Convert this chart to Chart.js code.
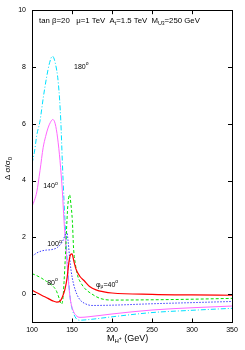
<!DOCTYPE html>
<html><head><meta charset="utf-8">
<script src="https://cdn.jsdelivr.net/npm/chart.js@4/dist/chart.umd.min.js"></script>
<style>html,body{margin:0;padding:0;background:#fff}canvas{display:block}</style>
</head><body>
<canvas id="c" width="245" height="350"></canvas>
<script>
// Data (M_H+ in GeV, Δσ/σ0)
const m40 = [100,106,112,120,126,131,135,138,141,144,146,148,150,152,155,160,165,172,180,190,200,250,300,350];
const d40 = [0.14,0.05,-0.04,-0.15,-0.24,-0.28,-0.25,-0.1,0.15,0.6,1.1,1.38,1.42,1.2,0.88,0.62,0.48,0.27,0.15,0.08,0.04,-0.01,-0.03,-0.04];
const m80 = [100,106,112,118,125,130,134,136.5,138.5,140,142,143.7,145,147,148.5,150.4,152,154,157,161,166,175,185,200,250,300,350];
const d80 = [0.72,0.65,0.56,0.45,0.31,0.14,-0.15,-0.35,-0.2,0.4,1.5,2.6,3.2,3.5,3.2,2.6,1.6,1.1,0.65,0.4,0.2,0.0,-0.15,-0.21,-0.2,-0.18,-0.15];
const m100 = [100,106,112,118,125,132,138,141,143.5,145,147,149,152,156,160,166,175,200,250,300,350];
const d100 = [1.33,1.45,1.52,1.55,1.57,1.65,1.85,2.05,2.2,1.9,1.3,0.8,0.35,0.0,-0.2,-0.33,-0.4,-0.39,-0.34,-0.3,-0.26];
const m140 = [100,103,106,110,114,117,120,123,126,129,132,135,138,140,142,144,146,148,151,155,160,170,200,250,300,350];
const d140 = [3.09,3.3,3.6,4.35,5.17,5.55,5.85,6.05,6.15,6.0,5.5,4.7,3.6,2.6,1.8,1.0,0.3,-0.2,-0.55,-0.75,-0.82,-0.8,-0.7,-0.56,-0.48,-0.42];
const m180 = [100,103,106,110,114,118,122,125.5,129,133,136,138,140,142,144,146,148,151,155,160,170,200,250,300,350];
const d180 = [4.6,5.0,5.6,6.1,6.9,7.6,8.15,8.38,8.15,7.4,6.1,4.6,3.3,2.2,1.2,0.4,-0.2,-0.6,-0.85,-0.92,-0.9,-0.8,-0.65,-0.57,-0.5];
const xTicks = [100,150,200,250,300,350];
const yTicks = [0,2,4,6,8,10];

const pts = (m,d) => m.map((x,i)=>({x:x,y:d[i]}));
const FONT = '"Liberation Sans", Arial, sans-serif';

const annotations = {
  id:'annot',
  afterDraw(chart){
    const {ctx, chartArea:a, scales:{x,y}} = chart;
    ctx.save();
    ctx.strokeStyle='#000'; ctx.lineWidth=1;
    ctx.strokeRect(Math.round(a.left)+0.5, Math.round(a.top)+0.5, Math.round(a.right-a.left), Math.round(a.bottom-a.top));
    ctx.beginPath();
    yTicks.forEach(v=>{const p=Math.round(y.getPixelForValue(v))+0.5; ctx.moveTo(a.left,p);ctx.lineTo(a.left+4,p);ctx.moveTo(a.right,p);ctx.lineTo(a.right-4,p);});
    xTicks.forEach(v=>{const p=Math.round(x.getPixelForValue(v))+0.5; ctx.moveTo(p,a.bottom);ctx.lineTo(p,a.bottom-4);ctx.moveTo(p,a.top);ctx.lineTo(p,a.top+4);});
    ctx.stroke();
    ctx.fillStyle='#000';
    ctx.textBaseline='middle'; ctx.textAlign='left';
    const txt=(parts, px, py)=>{ // parts: [text, size, dy]
      let cx=px;
      parts.forEach(([t,s,dy])=>{ctx.font=s+'px '+FONT; ctx.fillText(t,cx,py+(dy||0)); cx+=ctx.measureText(t).width;});
    };
    txt([['tan β=20   μ=1 TeV  A',7.8],['t',5.5,2],['=1.5 TeV  M',7.8],['U',5.5,2],['3',4.5,3],['=250 GeV',7.8]], 39, 21);
    const at=(M,v)=>[x.getPixelForValue(M), y.getPixelForValue(v)];
    let p;
    p=at(152.5,8.0); txt([['180',7],['o',5,-3]],p[0],p[1]);
    p=at(114,3.8); txt([['140',7],['o',5,-3]],p[0],p[1]);
    p=at(119,1.75); txt([['100',7],['o',5,-3]],p[0],p[1]);
    p=at(119,0.4); txt([['80',7],['o',5,-3]],p[0],p[1]);
    p=at(180,0.32); txt([['φ',7],['μ',5,2],['=40',7],['o',5,-3]],p[0],p[1]);
    // x axis title
    txt([['M',9],['H',6,2],['+',5,0],[' (GeV)',9]], 107, 339);
    // y axis title rotated
    ctx.translate(8,165); ctx.rotate(-Math.PI/2);
    ctx.textAlign='left';
    txt([['Δ σ/σ',8],['0',6,2]], -15, 0);
    ctx.restore();
  }
};

new Chart(document.getElementById('c'), {
  type:'line',
  data:{datasets:[
    {data:pts(m40,d40), borderColor:'#ff0000', borderWidth:1.2, borderDash:[]},
    {data:pts(m80,d80), borderColor:'#00e000', borderWidth:1, borderDash:[3,2]},
    {data:pts(m100,d100), borderColor:'#3a3aff', borderWidth:1, borderDash:[1.5,1.5]},
    {data:pts(m140,d140), borderColor:'#ff66ff', borderWidth:1, borderDash:[]},
    {data:pts(m180,d180), borderColor:'#00e0ff', borderWidth:1, borderDash:[5,2,1,2]}
  ]},
  options:{
    responsive:false, animation:false, devicePixelRatio:1,
    layout:{padding:{top:9,right:13,left:0,bottom:0}},
    elements:{point:{radius:0}, line:{tension:0, cubicInterpolationMode:'monotone', fill:false}},
    plugins:{legend:{display:false}, tooltip:{enabled:false}},
    scales:{
      x:{type:'linear', min:100, max:350,
         grid:{display:false, drawTicks:false}, border:{display:false},
         afterBuildTicks:s=>{s.ticks=xTicks.map(v=>({value:v}));},
         afterFit:s=>{s.height=27.5;},
         ticks:{font:{size:7,family:FONT}, color:'#000', padding:3, maxRotation:0}},
      y:{type:'linear', min:-1, max:10,
         grid:{display:false, drawTicks:false}, border:{display:false},
         afterBuildTicks:s=>{s.ticks=yTicks.map(v=>({value:v}));},
         afterFit:s=>{s.width=32;},
         ticks:{font:{size:7,family:FONT}, color:'#000', padding:6}}
    }
  },
  plugins:[annotations]
});
</script>
</body></html>
